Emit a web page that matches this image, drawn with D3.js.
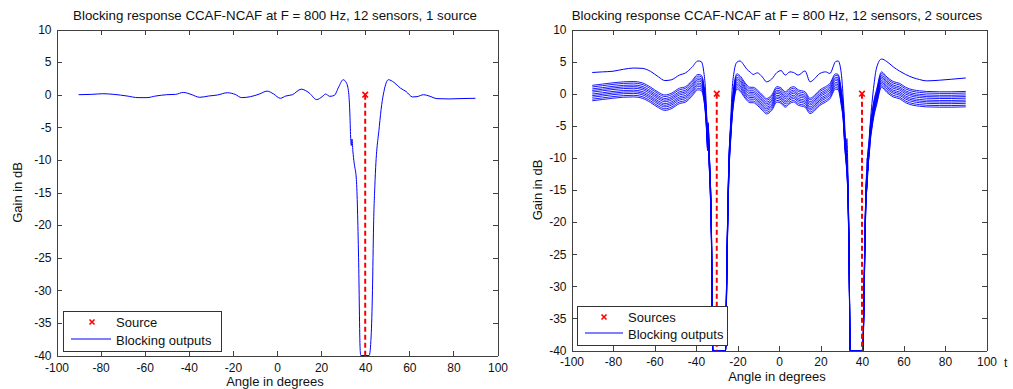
<!DOCTYPE html>
<html>
<head>
<meta charset="utf-8">
<script src="https://cdn.jsdelivr.net/npm/d3@7"></script>
<style>
    body { margin: 0; background: #fff; }
    svg { display: block; font-family: "Liberation Sans", Arial, sans-serif; }
    .axis path, .axis line { stroke: #404040; shape-rendering: crispEdges; }
    .axis text { fill: #111; font-size: 12px; font-family: "Liberation Sans", Arial, sans-serif; }
    .lbl { fill: #111; font-size: 12px; }
    .big { font-size: 13px; }
    .title { font-size: 13.3px; }
</style>
</head>
<body>
<svg id="chart" width="1013" height="389"></svg>
<script>
// ---- data ----
const xTicks = [-100, -80, -60, -40, -20, 0, 20, 40, 60, 80, 100];
const yTicks = [10, 5, 0, -5, -10, -15, -20, -25, -30, -35, -40];

// panel 1: one source at 40 deg, all blocking outputs coincide
const sourcesLeft = [40];
const anglesLeft = [-90, -84, -79, -74, -68, -63, -59, -55, -50, -46, -42.5, -39, -35, -31, -27, -22.5, -19, -16, -12, -8,
    -4.5, -1.5, 1.5, 4, 7, 11, 14.5, 18, 20.5, 22, 24, 26, 28, 30, 31.5, 32.5, 33, 33.4, 33.7, 34,
    34.4, 35, 36, 37, 37.7, 38, 41.8, 42.7, 43.3, 43.8, 44.5, 46.4, 47.5, 48.5, 50.5, 53, 56, 58.5, 61.5, 63.5,
    66.5, 69, 72.5, 78, 83, 90];
const gainLeft = [0, 0.05, 0.15, 0.05, -0.2, -0.45, -0.45, -0.2, 0, 0.05, 0.35, 0.05, -0.4, -0.2, -0.05, 0.3, 0.05, -0.45, -0.3, 0.1,
    0.55, 0.1, -0.55, -0.2, 0, 0.85, 0.3, -0.75, -0.3, 0.1, -0.25, -0.1, 1.2, 2.3, 1.8, 0.3, -2.5, -6.5, -7.8, -6.8,
    -8.6, -10.5, -13, -25, -39, -40, -40, -37, -30, -20, -13, -4.9, -1.5, 0.5, 2.3, 1.9, 1.0, 0.5, -0.35, -0.3,
    0, -0.2, -0.6, -0.65, -0.6, -0.55];

// panel 2: two sources, one output sits above a band of ten outputs
const sourcesRight = [-30, 40];
const anglesRight = [-90, -85, -80, -75, -70, -66, -62, -58, -55, -52, -48, -45, -42, -39, -37.5, -36.3, -35.4, -34.9, -34.4, -34.1,
    -33.7, -33.3, -32.6, -31.9, -25.8, -25.3, -24.8, -24.1, -23.4, -22.6, -21.6, -20.3, -18.8, -17, -15.5, -14, -12.4, -10.5, -8, -6,
    -3.5, -1, 1, 3, 5.3, 7, 9.3, 12.5, 15, 17, 19.7, 22.5, 24.5, 27.3, 28.5, 30, 31, 31.7, 32.2, 32.7,
    33.3, 33.8, 34.3, 40.4, 40.9, 41.4, 42, 42.5, 42.9, 43.4, 44, 44.8, 45.8, 47, 49.4, 52, 55, 58.2, 61, 64.6,
    67.8, 71, 77.4, 83, 90];
const upperRight = [3.3, 3.4, 3.5, 3.8, 4.0, 3.95, 3.5, 2.6, 2.05, 2.15, 2.9, 3.25, 4.1, 5.1, 5.0, 3.5, 0.5, -3, -7, -5.5,
    -9, -12, -20, -40, -40, -30, -20, -10, -5, 0.5, 3.5, 4.9, 5.1, 4.5, 3.8, 3.4, 3.0, 3.25, 2.6, 1.85,
    2.3, 3.3, 3.6, 2.9, 3.4, 3.3, 2.9, 3.55, 1.85, 2.3, 3.15, 3.4, 3.15, 5.0, 5.1, 3.2, -1, -5, -9, -7,
    -14, -25, -40, -40, -32, -22, -14, -10, -12, -7.5, -4.5, -1.5, 1.5, 4.0, 5.4, 5.0, 4.2, 3.5, 3.0, 2.5,
    2.2, 2.0, 2.1, 2.25, 2.45];
const bandTopRight = [1.3, 1.5, 1.7, 1.85, 1.9, 1.7, 1.05, 0.2, -0.2, 0.05, 0.85, 1.1, 2.0, 3.0, 2.9, 1.6, -1.0, -3.5, -6.5, -4.5,
    -8.5, -11.5, -20, -40, -40, -30, -20, -10, -5.5, -1.5, 1.5, 3.1, 2.8, 2.0, 1.35, 1.0, 1.0, 0.6, -0.2, -0.75,
    -0.2, 1.1, 0.9, 0.3, 0.9, 1.1, 0.6, 0.3, -0.7, -0.3, 0.6, 1.1, 1.6, 3.1, 3.0, 0.6, -2, -6, -8, -10,
    -15, -25, -40, -40, -32, -22, -14, -12, -9, -7.5, -5, -3, -1, 0.6, 3.4, 2.6, 1.9, 1.6, 1.0, 0.6,
    0.45, 0.35, 0.3, 0.3, 0.35];
// level of each output of the band below its top line (dB)
const bandOffsets = [0, -0.25, -0.55, -0.8, -1.05, -1.35, -1.6, -1.85, -2.15, -2.4];

// ---- drawing ----
const svg = d3.select("#chart");
const blue = "#0000ff", red = "#ff0000";

function drawPanel(p, series, sources) {
    const x = d3.scaleLinear().domain([-100, 100]).range([p.left, p.right]);
    const y = d3.scaleLinear().domain([-40, 10]).range([p.bottom, p.top]).clamp(true);
    const g = svg.append("g");
    const fmt = d => String(d);

    g.append("rect").attr("x", p.left).attr("y", p.top).attr("width", p.right - p.left).attr("height", p.bottom - p.top).attr("fill", "#fff");

    const line = d3.line().x(d => x(d[0])).y(d => y(d[1])).curve(d3.curveMonotoneX);
    series.forEach(s => {
        g.append("path").datum(s.angles.map((a, i) => [a, s.gains[i]]))
            .attr("d", line).attr("fill", "none").attr("stroke", blue).attr("stroke-width", s.w || 1);
    });

    // source markers
    sources.forEach(a => {
        g.append("line").attr("x1", x(a)).attr("x2", x(a)).attr("y1", y(0)).attr("y2", y(-40))
            .attr("stroke", red).attr("stroke-width", 2).attr("stroke-dasharray", "5,3");
        g.append("path").attr("d", d3.symbol(d3.symbolTimes || d3.symbolCross, 22)())
            .attr("transform", `translate(${x(a)},${y(0)})`).attr("fill", "none").attr("stroke", red).attr("stroke-width", 1.6);
    });

    g.append("g").attr("class", "axis").attr("transform", `translate(0,${p.bottom})`)
        .call(d3.axisBottom(x).tickValues(xTicks).tickSizeInner(-5).tickSizeOuter(0).tickPadding(p.xPad).tickFormat(fmt));
    g.append("g").attr("class", "axis").attr("transform", `translate(0,${p.top})`)
        .call(d3.axisTop(x).tickValues(xTicks).tickSizeInner(-5).tickSizeOuter(0).tickFormat(""));
    g.append("g").attr("class", "axis").attr("transform", `translate(${p.left},0)`)
        .call(d3.axisLeft(y).tickValues(yTicks).tickSizeInner(-5).tickSizeOuter(0).tickPadding(5).tickFormat(fmt));
    g.append("g").attr("class", "axis").attr("transform", `translate(${p.right},0)`)
        .call(d3.axisRight(y).tickValues(yTicks).tickSizeInner(-5).tickSizeOuter(0).tickFormat(""));
    g.selectAll(".axis text").attr("font-size", 12);

    g.append("text").attr("class", "lbl title").attr("x", p.titleX).attr("y", 19.5).attr("text-anchor", "middle").text(p.title);
    g.append("text").attr("class", "lbl big").attr("x", p.titleX).attr("y", p.xLabelY).attr("text-anchor", "middle").text("Angle in degrees");
    g.append("text").attr("class", "lbl big").attr("transform", `translate(${p.yLabelX},${(p.top + p.bottom) / 2}) rotate(-90)`)
        .attr("text-anchor", "middle").text("Gain in dB");

    // legend
    const L = p.legend;
    g.append("rect").attr("x", L.x + 0.5).attr("y", L.y + 0.5).attr("width", L.w).attr("height", L.h)
        .attr("fill", "#fff").attr("stroke", "#333");
    g.append("path").attr("d", d3.symbol(d3.symbolTimes || d3.symbolCross, 18)())
        .attr("transform", `translate(${L.markX},${L.row1})`).attr("fill", "none").attr("stroke", red).attr("stroke-width", 1.6);
    g.append("line").attr("x1", L.lineX0).attr("x2", L.lineX1).attr("y1", L.row2).attr("y2", L.row2)
        .attr("stroke", blue).attr("stroke-width", 1);
    g.append("text").attr("class", "lbl big").attr("x", L.textX).attr("y", L.row1).attr("dy", "0.35em").text(L.label);
    g.append("text").attr("class", "lbl big").attr("x", L.textX).attr("y", L.row2 + 1).attr("dy", "0.35em").text("Blocking outputs");
}

drawPanel({
    left: 56.5, right: 497.5, top: 29.5, bottom: 355.5, xPad: 8,
    titleX: 275, xLabelY: 386, yLabelX: 22,
    title: "Blocking response CCAF-NCAF at F = 800 Hz, 12 sensors, 1 source",
    legend: { x: 63, y: 311, w: 158, h: 40, markX: 92, row1: 322, row2: 339, lineX0: 71, lineX1: 111, textX: 116, label: "Source" }
}, [{ angles: anglesLeft, gains: gainLeft }], sourcesLeft);

const rightSeries = bandOffsets.map(o => ({ angles: anglesRight, gains: bandTopRight.map(v => v + o), w: 0.9 }));
rightSeries.push({ angles: anglesRight, gains: upperRight });

drawPanel({
    left: 571.5, right: 986.5, top: 29.5, bottom: 350.5, xPad: 7,
    titleX: 777, xLabelY: 381, yLabelX: 542,
    title: "Blocking response CCAF-NCAF at F = 800 Hz, 12 sensors, 2 sources",
    legend: { x: 577, y: 306, w: 150, h: 39, markX: 604, row1: 317, row2: 333, lineX0: 585, lineX1: 623, textX: 628, label: "Sources" }
}, rightSeries, sourcesRight);

svg.append("text").attr("class", "lbl").attr("x", 1004).attr("y", 367).text("t");
</script>
</body>
</html>
